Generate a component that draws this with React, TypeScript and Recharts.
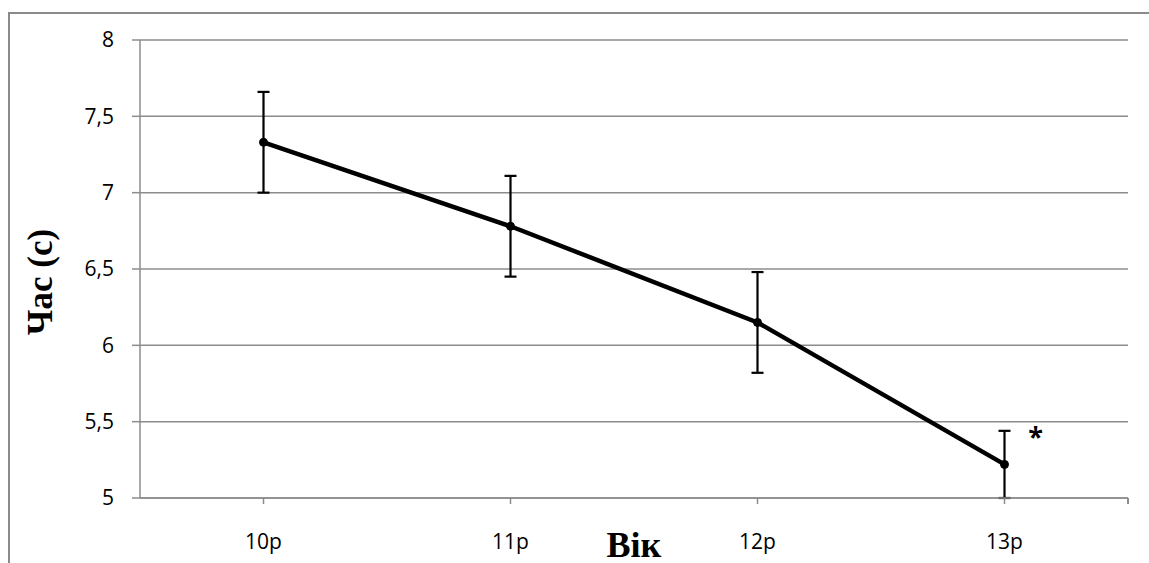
import { LineChart, Line, XAxis, YAxis, CartesianGrid, ErrorBar, LabelList, Label } from 'recharts'

// Вік (років) та середній час виконання тесту
const AGES = ['10р', '11р', '12р', '13р']
const TIME = [7.33, 6.78, 6.15, 5.22]
const ERR = [0.33, 0.33, 0.33, 0.22]
const MARKS = ['', '', '', '*']
const Y_TICKS = [5, 5.5, 6, 6.5, 7, 7.5, 8]

const data = AGES.map((age, i) => ({ age, time: TIME[i], err: ERR[i], mark: MARKS[i] }))

const GRID = '#8c8c8c'
const tickFont = { fill: '#000', fontSize: 21, fontFamily: 'Open Sans' }

function Mark(props: any) {
  const { x, y, value } = props
  if (!value) return null
  return (
    <text x={x + 31} y={y - 18} textAnchor="middle" fontSize={27} fontWeight={700} fontFamily="Open Sans" fill="#000">
      {value}
    </text>
  )
}

export default function App() {
  return (
    <div style={{ position: 'absolute', left: 0, top: 0, width: 1149, height: 563, overflow: 'hidden', background: '#fff' }}>
      {/* outer frame, runs off the right and bottom edge */}
      <div
        style={{
          position: 'absolute',
          left: 8,
          top: 12,
          width: 1300,
          height: 700,
          border: '2.5px solid #8a8a8a',
          boxSizing: 'border-box',
        }}
      />
      <div style={{ position: 'absolute', left: 0, top: 0 }}>
        <LineChart width={1149} height={563} data={data} margin={{ top: 40, right: 21, left: 0, bottom: 0 }}>
          <CartesianGrid vertical={false} stroke={GRID} strokeWidth={1.5} />
          <XAxis
            dataKey="age"
            height={65}
            padding={{ left: 123.5, right: 123.5 }}
            axisLine={{ stroke: GRID, strokeWidth: 1.5 }}
            tickLine={{ stroke: GRID, strokeWidth: 1.5 }}
            tickSize={6}
            tickMargin={30}
            tick={tickFont}
          >
            <Label
              content={({ viewBox }: any) => (
                <text
                  x={viewBox.x + viewBox.width / 2}
                  y={557}
                  textAnchor="middle"
                  fontSize={36}
                  fontWeight={700}
                  fontFamily="Liberation Serif"
                  fill="#000"
                >
                  Вік
                </text>
              )}
            />
          </XAxis>
          <YAxis
            width={140}
            domain={[5, 8]}
            ticks={Y_TICKS}
            interval={0}
            tickFormatter={(v: number) => String(v).replace('.', ',')}
            axisLine={{ stroke: GRID, strokeWidth: 1.5 }}
            tickLine={{ stroke: GRID, strokeWidth: 1.5 }}
            tickSize={8}
            tickMargin={18}
            tick={tickFont}
          >
            <Label
              content={() => (
                <text
                  x={52}
                  y={282}
                  transform="rotate(-90 52 282)"
                  textAnchor="middle"
                  fontSize={35}
                  fontWeight={700}
                  fontFamily="Liberation Serif"
                  fill="#000"
                >
                  Час (с)
                </text>
              )}
            />
          </YAxis>
          <Line
            type="linear"
            dataKey="time"
            stroke="#000"
            strokeWidth={4.5}
            dot={{ r: 4, fill: '#000', stroke: '#000', strokeWidth: 1 }}
            activeDot={false}
            isAnimationActive={false}
          >
            <ErrorBar dataKey="err" direction="y" width={6} stroke="#000" strokeWidth={2.2} isAnimationActive={false} />
            <LabelList dataKey="mark" content={Mark} />
          </Line>
        </LineChart>
      </div>
      {/* closing tick at right end of category axis */}
      <div style={{ position: 'absolute', left: 1127.25, top: 498, width: 1.5, height: 6, background: GRID }} />
    </div>
  )
}
